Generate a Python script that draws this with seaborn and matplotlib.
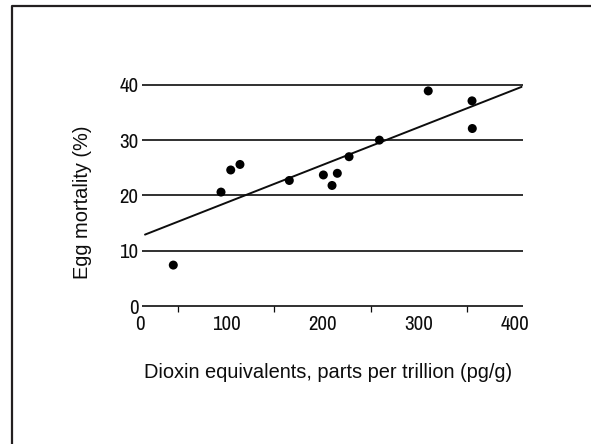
import numpy as np
import pandas as pd
import seaborn as sns
import matplotlib
matplotlib.use("Agg")
import matplotlib.pyplot as plt
from matplotlib.lines import Line2D
from matplotlib.transforms import ScaledTranslation
from matplotlib import font_manager

# Data
dioxin = [45, 94.6, 104.7, 114.3, 165.6, 201, 210, 215.5, 227.7, 259.2, 310, 355.5, 355.8]
mortality = [7.4, 20.6, 24.6, 25.6, 22.7, 23.7, 21.8, 24.0, 27.0, 30.0, 38.9, 37.1, 32.1]
x_ticks = [0, 100, 200, 300, 400]
x_minor = [50, 100, 150, 200, 250, 300, 350, 400]
y_ticks = [0, 10, 20, 30, 40]
x_label = "Dioxin equivalents, parts per trillion (pg/g)"
y_label = "Egg mortality (%)"

df = pd.DataFrame({"dioxin": dioxin, "mortality": mortality})

sns.set_theme(style="white")
plt.rcParams["font.family"] = ["Liberation Sans", "DejaVu Sans"]

# pick a condensed face for the tick numbers if one is installed
tick_family, tick_stretch = "Liberation Sans", "normal"
flist = font_manager.fontManager.ttflist
narrow = [f for f in flist if "Narrow" in f.name or "Condensed" in f.name]
cond = [f for f in flist if str(f.stretch) in ("condensed", "semi-condensed", "extra-condensed") or
        (isinstance(f.stretch, int) and f.stretch < 500)]
if any(f.name == "Liberation Sans Narrow" for f in flist):
    tick_family = "Liberation Sans Narrow"
elif narrow:
    tick_family = narrow[0].name
elif cond:
    tick_family, tick_stretch = cond[0].name, cond[0].stretch

W, H, DPI = 591, 444, 100
fig = plt.figure(figsize=(W / DPI, H / DPI), dpi=DPI)

x0_px, x1_px = 130, 523
y0_px, ymax_px = 306, 79.3
ax = fig.add_axes([x0_px / W, (H - y0_px) / H, (x1_px - x0_px) / W, (y0_px - ymax_px) / H])

ink = "#0d0d0d"

ax.hlines(y_ticks, 12, 408.5, color=ink, linewidth=1.2, clip_on=False, zorder=1)

ax.set_xlim(15.6, 407)
sns.regplot(data=df, x="dioxin", y="mortality", ax=ax, ci=None, truncate=False,
            scatter_kws=dict(s=42, color="black", alpha=1, edgecolor="none", zorder=3, clip_on=False),
            line_kws=dict(color=ink, linewidth=1.4, zorder=2, clip_on=False))

ax.set_xlim(0, 408.5)
ax.set_ylim(0, 41)

for s in ax.spines.values():
    s.set_visible(False)

tick_kw = dict(fontfamily=tick_family, fontstretch=tick_stretch, fontsize=15, color=ink)
ax.set_xticks(x_ticks)
ax.set_xticklabels([str(v) for v in x_ticks], **tick_kw)
ax.set_xticks(x_minor, minor=True)
ax.tick_params(axis="x", which="major", length=0, pad=6.5)
ax.tick_params(axis="x", which="minor", length=4, width=0.9, color=ink, direction="out", bottom=True)

ax.set_yticks(y_ticks)
ax.set_yticklabels([str(v) for v in y_ticks], **tick_kw)
ax.tick_params(axis="y", which="major", length=0, pad=-6)

lbl0 = ax.get_xticklabels()[0]
lbl0.set_transform(lbl0.get_transform() + ScaledTranslation(10 / DPI, 0, fig.dpi_scale_trans))

ax.set_xlabel("")
ax.set_ylabel("")
fig.text(328.5 / W, 1 - 373 / H, x_label, ha="center", va="center", fontsize=14.4, color=ink)
fig.text(83 / W, 1 - 202 / H, y_label, ha="center", va="center", rotation=90, fontsize=14.4, color=ink)

frame = Line2D([12 / W, 12 / W, 1.0], [0.0, 1 - 6 / H, 1 - 6 / H],
               transform=fig.transFigure, color="#231f20", linewidth=1.6)
fig.add_artist(frame)

fig.savefig("out.png", dpi=DPI, facecolor="white")
